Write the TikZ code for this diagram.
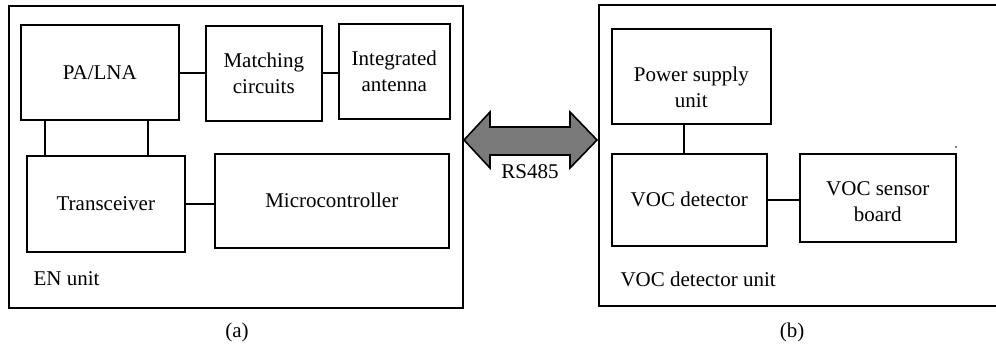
\documentclass[tikz,border=0pt]{standalone}
\usepackage{fontspec}
\setmainfont{Liberation Serif}
\begin{document}
\begin{tikzpicture}[x=1pt,y=-1pt,
  every node/.style={font=\fontsize{21}{26.5}\selectfont},
  blk/.style={draw, line width=1.6pt, inner sep=0pt, align=center, anchor=north west},
  unitbox/.style={draw, line width=1.6pt, inner sep=0pt, anchor=north west},
  wire/.style={line width=1.6pt},
  bigarrow/.style={draw, line width=1.6pt, fill=black!52, line join=miter}]
\clip (0,0) rectangle (996,347);
% outer units
\node[unitbox, minimum width=454pt, minimum height=302pt] (en) at (8,5) {};
\node[unitbox, minimum width=402pt, minimum height=301pt] (vu) at (598,4) {};
% left unit blocks
\node[blk, minimum width=158pt, minimum height=95pt] (pa) at (20,24) {PA/LNA};
\node[blk, minimum width=116pt, minimum height=95pt] (mc) at (205,25) {Matching\\circuits};
\node[blk, minimum width=111pt, minimum height=95pt] (ia) at (338,23) {Integrated\\antenna};
\node[blk, minimum width=158pt, minimum height=96pt] (tr) at (26,155) {Transceiver};
\node[blk, minimum width=234pt, minimum height=94pt] (mu) at (214,153) {Microcontroller};
\node[anchor=west] (enl) at (30,279) {EN unit};
% right unit blocks
\node[blk, minimum width=159pt, minimum height=95pt] (ps) at (611,28) {};
\node (pst) at ([yshift=-11pt]ps.center) [align=center] {Power supply\\unit};
\node[blk, minimum width=155pt, minimum height=92pt] (vd) at (611,153) {VOC detector};
\node[blk, minimum width=156pt, minimum height=88pt] (vs) at (799,153) {};
\node (vst) at ([yshift=-4pt]vs.center) [align=center] {VOC sensor\\board};
\node[anchor=west] (vul) at (617,279) {VOC detector unit};
% connectors
\draw[wire] (pa.east |- mc.west) -- (mc.west);
\draw[wire] (mc.east) -- (ia.west |- mc.east);
\draw[wire] (pa.south -| tr.south west) ++(19,0) coordinate (c1) -- (c1 |- tr.north);
\draw[wire] (pa.south -| tr.south west) ++(122,0) coordinate (c2) -- (c2 |- tr.north);
\draw[wire] (tr.east |- 0,204) coordinate (c3) -- (c3 -| mu.west);
\draw[wire] (ps.south -| 684,0) coordinate (c4) -- (c4 |- vd.north);
\draw[wire] (vd.east |- 0,200) coordinate (c5) -- (c5 -| vs.west);
% RS485 double arrow
\coordinate (la) at (464,140);
\coordinate (ra) at (597,140);
\draw[bigarrow] (la) -- (490,112) -- (490,127) -- (570,127) -- (570,112) -- (ra)
  -- (570,168) -- (570,155) -- (490,155) -- (490,168) -- cycle;
\node (rs) at (530,172) {RS485};
% stray dot
\fill (956,147) circle (0.8pt);
% captions
\node (ca) at (237,332) {(a)};
\node (cb) at (792,332) {(b)};
\end{tikzpicture}
\end{document}
